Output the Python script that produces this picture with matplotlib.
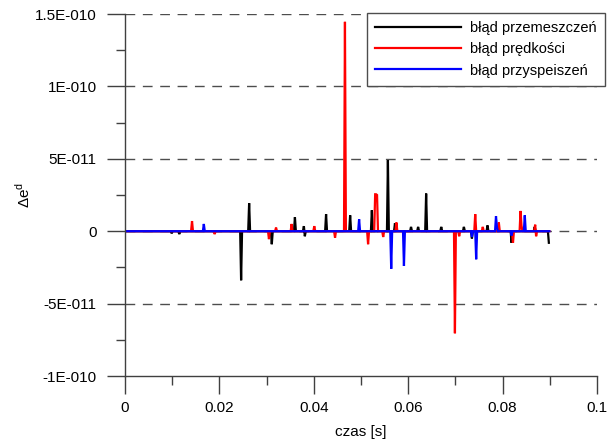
"""
Delta e^d vs time: displacement / velocity / acceleration errors
"""

import numpy as np
import matplotlib
matplotlib.use("Agg")
import matplotlib.pyplot as plt
from matplotlib.ticker import FixedLocator, FixedFormatter, MultipleLocator

plt.rcParams["font.family"] = ["Liberation Sans", "DejaVu Sans"]
plt.rcParams["mathtext.fontset"] = "custom"
plt.rcParams["mathtext.rm"] = "Liberation Sans"

# -----------------------------------------------------------------------------
# data (values in units of 1e-11)
# -----------------------------------------------------------------------------
SCALE = 1e-11

t_przem = [0.0000, 0.0097, 0.0099, 0.0101, 0.0113, 0.0115, 0.0117,
           0.0244, 0.0246, 0.0248, 0.0261, 0.0263, 0.0265,
           0.0309, 0.0311, 0.0313, 0.0358, 0.0360, 0.0362,
           0.0377, 0.0379, 0.0381, 0.0383, 0.0424, 0.0426, 0.0428,
           0.0475, 0.0477, 0.0479, 0.0521, 0.0523, 0.0525,
           0.0555, 0.0557, 0.0559, 0.0570, 0.0572, 0.0574,
           0.0604, 0.0606, 0.0608, 0.0619, 0.0621, 0.0623,
           0.0636, 0.0638, 0.0640, 0.0668, 0.0670, 0.0672,
           0.0716, 0.0718, 0.0720, 0.0733, 0.0735, 0.0737,
           0.0766, 0.0768, 0.0770, 0.0817, 0.0819, 0.0821,
           0.0866, 0.0868, 0.0870, 0.0896, 0.0898]
v_przem = [0.0, 0.0, -0.15, 0.0, 0.0, -0.2, 0.0,
           0.0, -3.39, 0.0, 0.0, 1.94, 0.0,
           0.0, -0.9, 0.0, 0.0, 0.97, 0.0,
           0.0, 0.35, -0.35, 0.0, 0.0, 1.18, 0.0,
           0.0, 1.1, 0.0, 0.0, 1.45, 0.0,
           0.0, 4.9, 0.0, 0.0, 0.55, 0.0,
           0.0, 0.3, 0.0, 0.0, 0.3, 0.0,
           0.0, 2.6, 0.0, 0.0, 0.3, 0.0,
           0.0, 0.3, 0.0, 0.0, -0.5, 0.0,
           0.0, 0.4, 0.0, 0.0, -0.8, 0.0,
           0.0, 0.3, 0.0, 0.0, -0.8]

t_pred = [0.0000, 0.0140, 0.0142, 0.0144, 0.0188, 0.0190, 0.0192,
          0.0303, 0.0305, 0.0307, 0.0318, 0.0320, 0.0322,
          0.0351, 0.0353, 0.0355, 0.0399, 0.0401, 0.0403,
          0.0443, 0.0445, 0.0447, 0.0464, 0.0466, 0.0468,
          0.0513, 0.0515, 0.0517, 0.0528, 0.0530, 0.0532, 0.0534, 0.0536,
          0.0545, 0.0547, 0.0549, 0.0573, 0.0575, 0.0577,
          0.0697, 0.0699, 0.0701, 0.0706, 0.0708, 0.0710,
          0.0740, 0.0742, 0.0744, 0.0756, 0.0758, 0.0760,
          0.0790, 0.0792, 0.0794, 0.0820, 0.0822, 0.0824,
          0.0836, 0.0838, 0.0840, 0.0842,
          0.0867, 0.0869, 0.0871, 0.0873, 0.0899]
v_pred = [0.0, 0.0, 0.7, 0.0, 0.0, -0.2, 0.0,
          0.0, -0.55, 0.0, 0.0, 0.25, 0.0,
          0.0, 0.5, 0.0, 0.0, 0.35, 0.0,
          0.0, -0.45, 0.0, 0.0, 14.46, 0.0,
          0.0, -0.9, 0.0, 0.0, 2.55, 2.55, 2.5, 0.0,
          0.0, -0.4, 0.0, 0.0, 0.6, 0.0,
          0.0, -7.05, 0.0, 0.0, -0.35, 0.0,
          0.0, 1.18, 0.0, 0.0, 0.3, 0.0,
          0.0, 0.6, 0.0, 0.0, -0.8, 0.0,
          0.0, 1.4, 0.4, 0.0,
          0.0, 0.45, -0.35, 0.0, 0.0]

t_przysp = [0.0000, 0.0165, 0.0167, 0.0169, 0.0494, 0.0496, 0.0498,
            0.0562, 0.0564, 0.0566, 0.0589, 0.0591, 0.0593,
            0.0733, 0.0735, 0.0737, 0.0742, 0.0744, 0.0746,
            0.0784, 0.0786, 0.0788, 0.0790, 0.0817, 0.0819, 0.0821,
            0.0845, 0.0847, 0.0849, 0.0899]
v_przysp = [0.0, 0.0, 0.5, 0.0, 0.0, 0.83, 0.0,
            0.0, -2.6, 0.0, 0.0, -2.4, 0.0,
            0.0, -0.4, 0.0, 0.0, -1.94, 0.0,
            0.0, 1.04, 0.3, 0.0, 0.0, -0.3, 0.0,
            0.0, 1.1, 0.0, 0.0]

series_labels = ["błąd przemeszczeń", "błąd prędkości", "błąd przyspeiszeń"]
series_colors = ["black", "red", "blue"]

y_ticks = [-1e-10, -5e-11, 0.0, 5e-11, 1e-10, 1.5e-10]
y_ticklabels = ["-1E-010", "-5E-011", "0", "5E-011", "1E-010", "1.5E-010"]
x_ticks = [0, 0.02, 0.04, 0.06, 0.08, 0.1]
x_ticklabels = ["0", "0.02", "0.04", "0.06", "0.08", "0.1"]

# -----------------------------------------------------------------------------
# figure
# -----------------------------------------------------------------------------
FS = 11

fig = plt.figure(figsize=(6.08, 4.47), dpi=100)
ax = fig.add_axes([125 / 608, 1 - 376 / 447, 472 / 608, 362 / 447])

series = [(t_przem, v_przem), (t_pred, v_pred), (t_przysp, v_przysp)]
for (t, v), lab, col in zip(series, series_labels, series_colors):
    ax.plot(t, np.array(v) * SCALE, color=col, lw=1.6, label=lab,
            solid_joinstyle="miter")

for y in y_ticks[1:]:
    ax.axhline(y, color="0.3", lw=1.0, dashes=(7, 5.5), zorder=0.5)

ax.set_xlim(0, 0.1)
ax.set_ylim(-1e-10, 1.5e-10)

for sp in ["top", "right"]:
    ax.spines[sp].set_visible(False)
for sp in ["left", "bottom"]:
    ax.spines[sp].set_color("0.25")
    ax.spines[sp].set_linewidth(1.0)

ax.yaxis.set_major_locator(FixedLocator(y_ticks))
ax.yaxis.set_major_formatter(FixedFormatter(y_ticklabels))
ax.yaxis.set_minor_locator(MultipleLocator(2.5e-11))
ax.xaxis.set_major_locator(FixedLocator(x_ticks))
ax.xaxis.set_major_formatter(FixedFormatter(x_ticklabels))
ax.xaxis.set_minor_locator(MultipleLocator(0.01))

ax.tick_params(axis="both", which="major", direction="out", length=13,
               width=1.0, color="0.25", labelsize=FS)
ax.tick_params(axis="both", which="minor", direction="out", length=6.5,
               width=1.0, color="0.25")
ax.tick_params(axis="y", which="major", pad=7.5)
ax.tick_params(axis="x", which="major", pad=5)

ax.set_xlabel("czas [s]", fontsize=FS, labelpad=7)
ax.set_ylabel("Δe$^\\mathregular{d}$", fontsize=FS)
ax.yaxis.set_label_coords(-0.195, 0.5)

leg = ax.legend(loc="upper right", bbox_to_anchor=(605 / 608, 1 - 13 / 447),
                bbox_transform=fig.transFigure, borderaxespad=0,
                fancybox=False, framealpha=1, edgecolor="0.3",
                handlelength=5.9, handletextpad=0.65, labelspacing=0.5,
                borderpad=0.55, fontsize=10.5)
leg.get_frame().set_linewidth(1.0)

plt.savefig("out.png", dpi=100)
